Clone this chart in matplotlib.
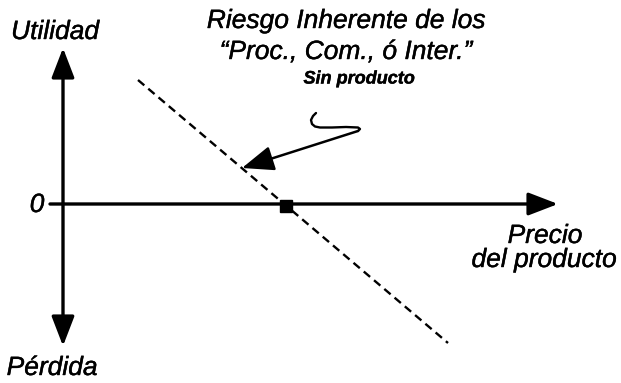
import matplotlib
matplotlib.use('Agg')
import matplotlib.pyplot as plt
import matplotlib.patheffects as pe
import numpy as np

# pixel-like coordinates of the schematic (y grows downward)
origin = (63, 204)
y_axis_top = 48
y_axis_bottom = 346
x_axis_left = 50
x_axis_right = 558

# dashed "riesgo" line: start / end
risk_x = [138, 448]
risk_y = [80, 343]

# break-even square
breakeven = (286, 206)

# callout hook and arrow
hook_x = [316, 313, 311, 312, 315, 320, 332, 346, 358, 360, 358]
hook_y = [113, 116, 120, 124, 126.5, 127.5, 127.5, 127, 127.5, 129, 131]
arrow_start = (358, 131)
arrow_tip = (242, 168)

title_lines = ['Riesgo Inherente de los', '\u201cProc., Com., ó Inter.\u201d']
subtitle = 'Sin producto'

plt.rcParams['font.family'] = ['Liberation Sans', 'DejaVu Sans']

fig = plt.figure(figsize=(6.21, 3.83), dpi=100)
ax = fig.add_axes([0, 0, 1, 1])
ax.set_xlim(0, 621)
ax.set_ylim(383, 0)
ax.axis('off')

arrow_kw = dict(arrowstyle='-|>,head_length=1.3,head_width=0.5', color='black', lw=2.4,
                shrinkA=0, shrinkB=0, mutation_scale=14)
# vertical axis, both directions
ax.annotate('', xy=(origin[0], y_axis_top), xytext=origin, arrowprops=arrow_kw)
ax.annotate('', xy=(origin[0], y_axis_bottom), xytext=origin, arrowprops=arrow_kw)
# horizontal axis
ax.annotate('', xy=(x_axis_right, origin[1]), xytext=(x_axis_left, origin[1]), arrowprops=arrow_kw)

ax.plot(risk_x, risk_y, color='black', lw=1.7, linestyle=(0, (3.5, 2.2)))
ax.plot(*breakeven, marker='s', color='black', markersize=9)

ax.plot(hook_x, hook_y, color='black', lw=1.7, solid_capstyle='round', solid_joinstyle='round')
ax.annotate('', xy=arrow_tip, xytext=arrow_start,
            arrowprops=dict(arrowstyle='-|>,head_length=1.4,head_width=0.55', color='black',
                            lw=1.8, shrinkA=0, shrinkB=0, mutation_scale=14))

bold_fx = [pe.withStroke(linewidth=0.3, foreground='black')]
txt = dict(fontsize=19, style='italic', ha='center', va='center', path_effects=bold_fx)

ax.text(55, 32, 'Utilidad', **txt)
ax.text(52, 368, 'Pérdida', **txt)
ax.text(37, 205, '0', **txt)
ax.text(545, 236, 'Precio', **txt)
ax.text(544, 260, 'del producto', **txt)

ax.text(346, 21, title_lines[0], **txt)
ax.text(346, 52, title_lines[1], **txt)
ax.text(359, 79, subtitle, fontsize=13, style='italic', weight='bold', ha='center', va='center',
        path_effects=bold_fx)

fig.savefig('out.png', dpi=100, facecolor='white')
